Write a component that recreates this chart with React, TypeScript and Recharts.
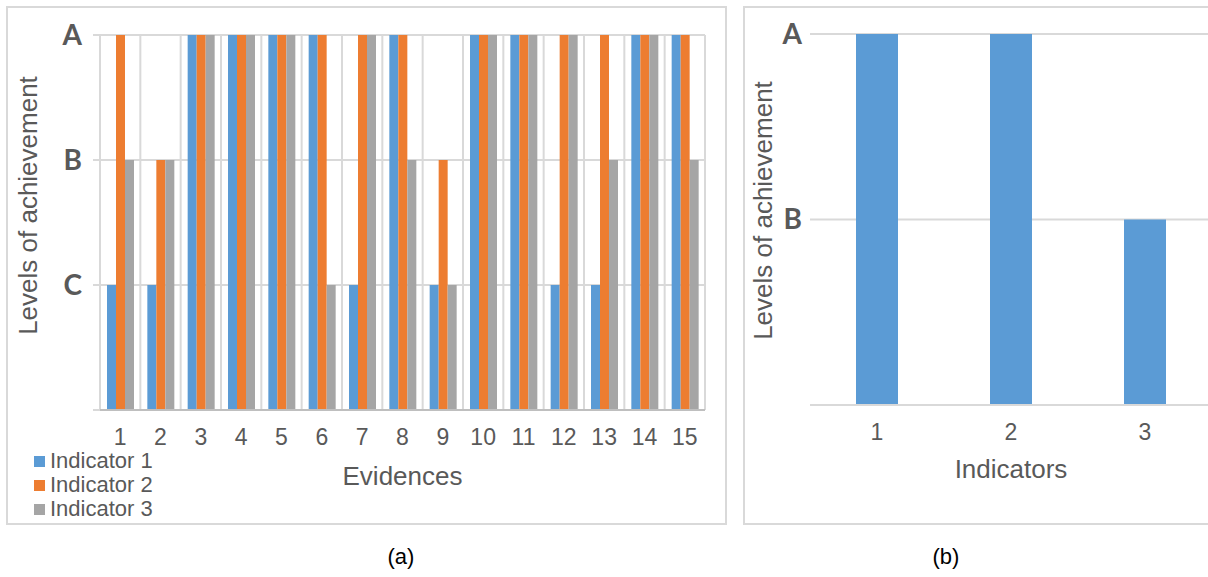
import React from "react";
import { BarChart, Bar, XAxis, YAxis, CartesianGrid, Label } from "recharts";

// (a) achievement level per evidence, 1 = C, 2 = B, 3 = A
const evidences = ["1", "2", "3", "4", "5", "6", "7", "8", "9", "10", "11", "12", "13", "14", "15"];
const indicator1 = [1, 1, 3, 3, 3, 3, 1, 3, 1, 3, 3, 1, 1, 3, 3];
const indicator2 = [3, 2, 3, 3, 3, 3, 3, 3, 2, 3, 3, 3, 3, 3, 3];
const indicator3 = [2, 2, 3, 3, 3, 1, 3, 2, 1, 3, 3, 3, 2, 3, 2];
const levelTicks = [0, 1, 2, 3];
const levelNames = ["", "C", "B", "A"];

// (b) overall level per indicator
const indicators = ["1", "2", "3"];
const indicatorLevels = [3, 3, 2];
const summaryTicks = [1, 2, 3];
const summaryNames = ["", "B", "A"];

const seriesNames = ["Indicator 1", "Indicator 2", "Indicator 3"];
const seriesColors = ["#5B9BD5", "#ED7D31", "#A5A5A5"];

const evidenceData = evidences.map((e, i) => ({
  evidence: e,
  i1: indicator1[i],
  i2: indicator2[i],
  i3: indicator3[i],
}));
const summaryData = indicators.map((n, i) => ({ indicator: n, level: indicatorLevels[i] }));

const textColor = "#595959";
const gridColor = "#d9d9d9";
const sans = '"Liberation Sans", Arial, sans-serif';
const levelTick = { fill: textColor, fontSize: 28, fontWeight: 700, fontFamily: "Lato, sans-serif" };
const numTick = { fill: textColor, fontSize: 23, fontFamily: sans };

const yTitle = (cx: number, shift: number) => (props: any) => {
  const vb = props.viewBox;
  const cy = vb.y + vb.height / 2 + shift;
  return (
    <text
      x={cx}
      y={cy}
      transform={`rotate(-90 ${cx} ${cy})`}
      textAnchor="middle"
      dominantBaseline="central"
      fill={textColor}
      fontSize={26}
      fontFamily={sans}
    >
      Levels of achievement
    </text>
  );
};

const xTitle = (text: string, dy: number) => (props: any) => {
  const vb = props.viewBox;
  return (
    <text
      x={vb.x + vb.width / 2}
      y={vb.y + dy}
      textAnchor="middle"
      dominantBaseline="central"
      fill={textColor}
      fontSize={26}
      fontFamily={sans}
    >
      {text}
    </text>
  );
};

const box = (left: number, width: number): React.CSSProperties => ({
  position: "absolute",
  left,
  top: 6,
  width,
  height: 519,
  boxSizing: "border-box",
  border: `2px solid ${gridColor}`,
});

const caption: React.CSSProperties = {
  position: "absolute",
  top: 544,
  width: 60,
  textAlign: "center",
  fontSize: 22,
  lineHeight: "26px",
  fontFamily: sans,
  color: "#000",
};

export default function App() {
  return (
    <div
      style={{
        position: "absolute",
        left: 0,
        top: 0,
        width: 1208,
        height: 577,
        overflow: "hidden",
        background: "#fff",
      }}
    >
      <div style={box(6, 721)} />
      <div style={box(743, 480)} />

      <div style={{ position: "absolute", left: 0, top: 0 }}>
        <BarChart
          width={726}
          height={523}
          data={evidenceData}
          margin={{ top: 35, right: 21, bottom: 33, left: 40 }}
          barGap={0}
          barSize={9}
        >
          <CartesianGrid
            stroke={gridColor}
            strokeWidth={2}
            verticalCoordinatesGenerator={({ offset }: any) =>
              Array.from(
                { length: evidences.length + 1 },
                (_, i) => offset.left + (i * offset.width) / evidences.length
              )
            }
          />
          <XAxis
            dataKey="evidence"
            interval={0}
            tickLine={false}
            tickSize={0}
            tickMargin={19}
            axisLine={{ stroke: "#bfbfbf", strokeWidth: 2 }}
            tick={numTick}
            height={80}
          >
            <Label content={xTitle("Evidences", 66)} />
          </XAxis>
          <YAxis
            width={60}
            domain={[0, 3]}
            ticks={levelTicks}
            tickFormatter={(v: number) => levelNames[v]}
            axisLine={false}
            tickLine={{ stroke: gridColor, strokeWidth: 2 }}
            tickSize={7}
            tickMargin={11}
            tick={levelTick}
          >
            <Label content={yTitle(28, -17)} />
          </YAxis>
          <Bar dataKey="i1" name={seriesNames[0]} fill={seriesColors[0]} isAnimationActive={false} />
          <Bar dataKey="i2" name={seriesNames[1]} fill={seriesColors[1]} isAnimationActive={false} />
          <Bar dataKey="i3" name={seriesNames[2]} fill={seriesColors[2]} isAnimationActive={false} />
        </BarChart>
      </div>

      {/* legend of (a), bottom-left inside the frame */}
      <div style={{ position: "absolute", left: 34, top: 449, fontFamily: sans, fontSize: 22, color: textColor }}>
        {seriesNames.map((name, i) => (
          <div key={name} style={{ display: "flex", alignItems: "center", height: 24 }}>
            <span style={{ width: 11, height: 11, background: seriesColors[i], marginRight: 5 }} />
            <span>{name}</span>
          </div>
        ))}
      </div>

      <div style={{ position: "absolute", left: 742, top: 0 }}>
        <BarChart
          width={480}
          height={523}
          data={summaryData}
          margin={{ top: 34, right: 10, bottom: 38, left: 20 }}
          barSize={42}
        >
          <CartesianGrid stroke={gridColor} strokeWidth={2} vertical={false} />
          <XAxis
            dataKey="indicator"
            tickLine={false}
            tickSize={0}
            tickMargin={19}
            axisLine={{ stroke: gridColor, strokeWidth: 2 }}
            tick={numTick}
            height={80}
          >
            <Label content={xTitle("Indicators", 64)} />
          </XAxis>
          <YAxis
            width={48}
            domain={[1, 3]}
            ticks={summaryTicks}
            tickFormatter={(v: number) => summaryNames[summaryTicks.indexOf(v)]}
            axisLine={false}
            tickLine={false}
            tickSize={0}
            tickMargin={8}
            tick={levelTick}
          >
            <Label content={yTitle(21, -9)} />
          </YAxis>
          <Bar dataKey="level" fill={seriesColors[0]} isAnimationActive={false} />
        </BarChart>
      </div>

      <div style={{ ...caption, left: 371 }}>(a)</div>
      <div style={{ ...caption, left: 916 }}>(b)</div>
    </div>
  );
}
